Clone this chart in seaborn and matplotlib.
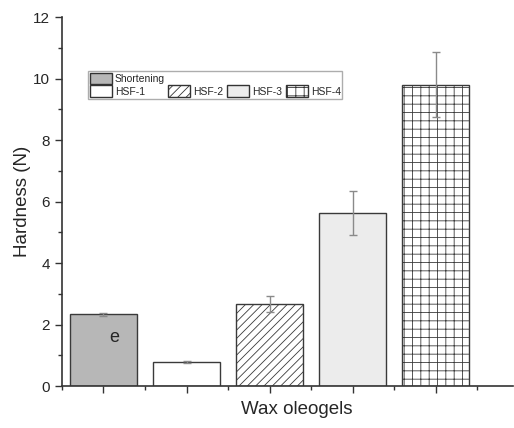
import numpy as np
import pandas as pd
import matplotlib
matplotlib.use('Agg')
import matplotlib.pyplot as plt
import seaborn as sns
from matplotlib.patches import Patch
from matplotlib.ticker import MultipleLocator

# Данные
samples = ['Shortening', 'HSF-1', 'HSF-2', 'HSF-3', 'HSF-4']
hardness = [2.34, 0.79, 2.67, 5.64, 9.80]
errors = [0.05, 0.04, 0.27, 0.72, 1.06]
colors = ['#b7b7b7', '#ffffff', '#ffffff', '#ececec', '#ffffff']
hatches = ['', '', '////', '', '++']

sns.set_style('ticks')
plt.rcParams['font.family'] = ['Liberation Sans', 'DejaVu Sans']
plt.rcParams['hatch.linewidth'] = 0.6

df = pd.DataFrame({'sample': samples, 'hardness': hardness})

fig = plt.figure(figsize=(5.14, 4.28), dpi=100)
ax = fig.add_axes([0.1206, 0.098, 0.877, 0.862])

sns.barplot(data=df, x='sample', y='hardness', hue='sample', palette=colors,
            width=0.8, edgecolor='#3a3a3a', linewidth=1.0, legend=False, ax=ax)

for bar, h in zip(ax.patches, hatches):
    bar.set_hatch(h)

ax.errorbar(range(len(samples)), hardness, yerr=errors, fmt='none',
            ecolor='#8a8a8a', elinewidth=1.0, capsize=3, capthick=1.0)

# буква на первом столбце
ax.text(0.13, 1.59, 'e', fontsize=13, ha='center', va='center')

ax.set_xlim(-0.5, 4.93)
ax.set_ylim(0, 12)
ax.set_xticks(range(len(samples)))
ax.set_xticklabels([])
ax.xaxis.set_minor_locator(MultipleLocator(1, offset=0.5))
ax.yaxis.set_major_locator(MultipleLocator(2))
ax.yaxis.set_minor_locator(MultipleLocator(1))
ax.tick_params(axis='both', which='major', length=5, width=1, color='#333333',
               labelsize=11, direction='out')
ax.tick_params(axis='both', which='minor', length=3, width=1, color='#333333',
               direction='out')

for side in ['top', 'right']:
    ax.spines[side].set_visible(False)
for side in ['left', 'bottom']:
    ax.spines[side].set_color('#333333')
    ax.spines[side].set_linewidth(1.2)

ax.set_xlabel('Wax oleogels', fontsize=13.5)
ax.set_ylabel('Hardness (N)', fontsize=13.5)
ax.xaxis.set_label_coords(0.521, -0.041)
ax.yaxis.set_label_coords(-0.068, 0.5)

# легенда: пустые элементы, чтобы HSF-2..4 стояли во второй строке
blank = Patch(facecolor='none', edgecolor='none')
handles = []
labels = []
handles.append(Patch(facecolor=colors[0], edgecolor='#333333', hatch=hatches[0]))
labels.append(samples[0])
handles.append(Patch(facecolor=colors[1], edgecolor='#333333', hatch=hatches[1]))
labels.append(samples[1])
for c, h, s in zip(colors[2:], hatches[2:], samples[2:]):
    handles.append(blank)
    labels.append('')
    handles.append(Patch(facecolor=c, edgecolor='#333333', hatch=h))
    labels.append(s)

leg = ax.legend(handles, labels, ncol=4, loc='upper left',
                bbox_to_anchor=(0.058, 0.854), fontsize=7.5,
                frameon=True, fancybox=False, edgecolor='#999999',
                handlelength=2.1, handleheight=1.35, handletextpad=0.3,
                columnspacing=0.35, labelspacing=0.1, borderpad=0.15,
                borderaxespad=0)
leg.get_frame().set_linewidth(1.0)

plt.savefig('out.png', dpi=100)
